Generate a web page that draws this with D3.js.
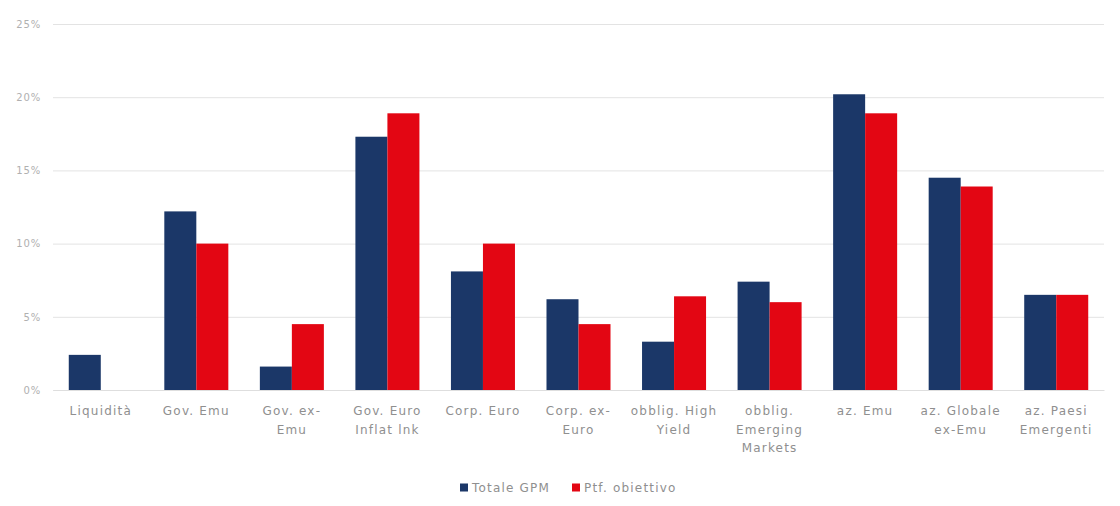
<!DOCTYPE html>
<html><head><meta charset="utf-8">
<script src="https://cdn.jsdelivr.net/npm/d3@7"></script>
<style>
html,body{margin:0;padding:0;background:#fff;}
text{font-family:"DejaVu Sans",Verdana,sans-serif;}
</style></head>
<body>
<svg id="chart" width="1120" height="506"></svg>
<script>
const categories = ["Liquidità","Gov. Emu","Gov. ex-\nEmu","Gov. Euro\nInflat lnk","Corp. Euro","Corp. ex-\nEuro","obblig. High\nYield","obblig.\nEmerging\nMarkets","az. Emu","az. Globale\nex-Emu","az. Paesi\nEmergenti"];
const seriesNames = ["Totale GPM","Ptf. obiettivo"];
const totaleGPM = [2.4,12.2,1.6,17.3,8.1,6.2,3.3,7.4,20.2,14.5,6.5];
const ptfObiettivo = [0,10,4.5,18.9,10,4.5,6.4,6.0,18.9,13.9,6.5];
const yTicks = [0,5,10,15,20,25];
const colors = ["#1b3768","#e30613"];

const svg = d3.select("#chart");
const mLeft = 53, mRight = 1104, mTop = 24, mBottom = 390;

const x = d3.scaleBand().domain(categories).range([mLeft,mRight]).paddingInner(0.33).paddingOuter(0.165);
const x1 = d3.scaleBand().domain(seriesNames).range([0,x.bandwidth()]).padding(0);
const y = d3.scaleLinear().domain([0,25]).range([mBottom,mTop]);

// gridlines
const yAxis = d3.axisLeft(y).tickValues(yTicks).tickFormat(d=>d+"%").tickSize(-(mRight-mLeft)).tickPadding(12);
const gy = svg.append("g").attr("transform",`translate(${mLeft},0)`).call(yAxis);
gy.select(".domain").remove();
gy.selectAll(".tick line").attr("stroke","#e3e3e3").attr("stroke-width",1);
gy.selectAll(".tick text").attr("fill","#b0b0b0").style("font-size","10px").style("letter-spacing","0.8px");

// bars
const data = categories.map((c,i)=>({c, vals:[totaleGPM[i], ptfObiettivo[i]]}));
const groups = svg.append("g").selectAll("g").data(data).join("g")
  .attr("transform",d=>`translate(${x(d.c)},0)`);
groups.selectAll("rect").data(d=>d.vals.map((v,k)=>({k,v}))).join("rect")
  .attr("x",d=>x1(seriesNames[d.k]))
  .attr("width",x1.bandwidth())
  .attr("y",d=>y(d.v))
  .attr("height",d=>y(0)-y(d.v))
  .attr("fill",d=>colors[d.k]);

// x axis labels
const xAxis = d3.axisBottom(x).tickSize(0).tickPadding(0).tickFormat("");
const gx = svg.append("g").attr("transform",`translate(0,${mBottom})`).call(xAxis);
gx.select(".domain").attr("stroke","#dedede");
gx.selectAll(".tick").each(function(d){
  const lines = d.split("\n");
  const t = d3.select(this).append("text").attr("fill","#8f8f8f").attr("text-anchor","middle")
    .style("font-size","12px").style("letter-spacing","1.2px");
  lines.forEach((ln,i)=>{
    t.append("tspan").attr("x",0).attr("y",25+i*18.5).text(ln);
  });
});

// legend
const legend = svg.append("g").attr("transform","translate(460,488)");
const lx = [0,112];
seriesNames.forEach((n,i)=>{
  const g = legend.append("g").attr("transform",`translate(${lx[i]},0)`);
  g.append("rect").attr("x",0).attr("y",-4.5).attr("width",8).attr("height",8).attr("fill",colors[i]);
  g.append("text").attr("x",12).attr("y",4).attr("fill","#8f8f8f").style("font-size","12px").style("letter-spacing","1.2px").text(n);
});
</script>
</body></html>
